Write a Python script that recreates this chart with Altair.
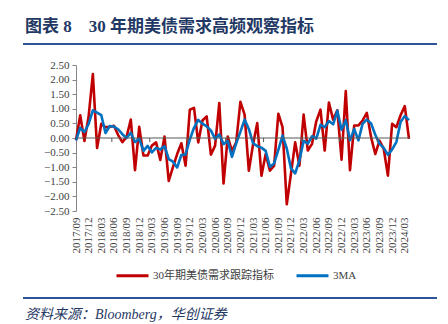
import json
import altair as alt
import pandas as pd

# ---- data ----
months = pd.date_range("2017-09-01", periods=80, freq="MS").strftime("%Y/%m").tolist()

red_name = "30年期美债需求跟踪指标"
ma_name = "3MA"

red = [-0.08, 0.78, -0.10, 0.75, 2.19, -0.34, 0.49, 0.37, 0.38, 0.42,
       0.10, -0.14, 0.04, 0.63, -1.10, 0.38, -0.60, -0.60, -0.26, -0.15,
       -0.75, 0.05, -1.47, -1.00, -0.55, -0.18, -0.95, 0.97, 1.03, -0.15,
       0.60, 0.74, -0.57, -0.26, 1.20, -1.56, 0.05, -0.45, -0.15, 1.24,
       0.80, -1.12, -0.22, 0.51, -1.29, -0.55, -1.12, -0.95, 0.83, 0.37,
       -2.27, -1.22, -0.15, -0.95, 0.80, -0.43, -0.20, 0.57, 0.97, -0.43,
       1.21, 0.63, 0.95, -0.74, 1.61, -1.10, 0.43, 0.43, 0.60, 0.86,
       0.03, -0.55, -0.09, -0.37, -1.29, 0.49, 0.37, 0.78, 1.09, -0.03]

ma3 = [-0.08, 0.35, 0.20, 0.48, 0.95, 0.87, 0.78, 0.17, 0.41, 0.39,
       0.30, 0.13, 0.00, 0.18, -0.14, -0.03, -0.44, -0.27, -0.49, -0.34,
       -0.39, -0.28, -0.72, -0.81, -1.01, -0.58, -0.56, -0.05, 0.35, 0.62,
       0.49, 0.40, 0.26, -0.03, 0.12, -0.21, -0.10, -0.65, -0.18, 0.21,
       0.63, 0.31, -0.18, -0.28, -0.33, -0.44, -0.99, -0.87, -0.41, 0.08,
       -0.36, -1.04, -1.21, -0.77, -0.10, -0.19, 0.06, -0.02, 0.45, 0.37,
       0.58, 0.47, 0.93, 0.28, 0.61, -0.08, 0.31, -0.08, 0.49, 0.63,
       0.50, 0.11, -0.20, -0.34, -0.58, -0.39, -0.14, 0.55, 0.75, 0.61]

tick_labels = ["2017/09", "2017/12", "2018/03", "2018/06", "2018/09", "2018/12",
               "2019/03", "2019/06", "2019/09", "2019/12", "2020/03", "2020/06",
               "2020/09", "2020/12", "2021/03", "2021/06", "2021/09", "2021/12",
               "2022/03", "2022/06", "2022/09", "2022/12", "2023/03", "2023/06",
               "2023/09", "2023/12", "2024/03"]
tick_values = [months.index(t) for t in tick_labels]

y_ticks = [2.5, 2.0, 1.5, 1.0, 0.5, 0.0, -0.5, -1.0, -1.5, -2.0, -2.5]
zero_axis_ticks = [8.5, 17.5, 26.5, 35.5, 44.5, 53.5, 62.5, 71.5]

title_text = "图表 8\u2002\u200230 年期美债需求高频观察指标"
source_text = "资料来源：Bloomberg，华创证券"

rows = []
for name, vals in ((red_name, red), (ma_name, ma3)):
    for i, (m, v) in enumerate(zip(months, vals)):
        rows.append({"i": i, "month": m, "series": name, "value": v})
df = pd.DataFrame(rows)

FONT = "Liberation Serif, Noto Sans CJK SC"
NAVY = "#1F3864"
RULE_BLUE = "#2F5496"

label_expr = json.dumps(tick_labels) + "[round(datum.value / 3)]"

xscale = alt.Scale(domain=[0, 79], nice=False, zero=False)
yscale = alt.Scale(domain=[-2.5, 2.5], nice=False, zero=False)

lines = alt.Chart(df).mark_line(strokeWidth=2.6, strokeJoin="round").encode(
    x=alt.X("i:Q", scale=xscale,
            axis=alt.Axis(values=tick_values, tickCount=100, labelExpr=label_expr,
                          labelAngle=-90, domain=False, ticks=False, grid=False,
                          title=None, labelFont=FONT, labelFontSize=11,
                          labelColor="#404040", labelPadding=6, labelOverlap=False,
                          labelFlush=False, labelBound=False)),
    y=alt.Y("value:Q", scale=yscale,
            axis=alt.Axis(values=y_ticks, tickCount=100, format=".2f", grid=False,
                          title=None, domainColor="#868686", tickColor="#868686",
                          tickSize=4, labelFont=FONT, labelFontSize=11,
                          labelColor="#404040", labelPadding=3, labelOverlap=False,
                          labelFlush=False, labelBound=False)),
    color=alt.Color("series:N",
                    scale=alt.Scale(domain=[red_name, ma_name], range=["#C00000", "#0070C0"]),
                    legend=alt.Legend(orient="none", legendX=39, legendY=193,
                                      direction="horizontal", title=None,
                                      symbolType="stroke", symbolSize=1024,
                                      symbolStrokeWidth=3, labelFont=FONT,
                                      labelFontSize=11, labelColor="#404040",
                                      columnPadding=16, labelOffset=3, padding=0)),
    order=alt.Order("i:Q"),
)

zero_line = alt.Chart(alt.Data(values=[{}])).mark_rule(color="#595959", strokeWidth=1).encode(
    y=alt.datum(0), x=alt.value(0), x2=alt.value(334)
)

zero_ticks = alt.Chart(pd.DataFrame({"t": zero_axis_ticks})).mark_rule(
    color="#595959", strokeWidth=1, y2Offset=4
).encode(x=alt.X("t:Q"), y=alt.datum(0), y2=alt.datum(0))

title = alt.Chart(alt.Data(values=[{}])).mark_text(
    text=title_text, font=FONT, fontSize=17, fontWeight="bold", color=NAVY,
    align="left", baseline="alphabetic"
).encode(x=alt.value(-51), y=alt.value(-33))

top_rule = alt.Chart(alt.Data(values=[{}])).mark_rule(color=RULE_BLUE, strokeWidth=2).encode(
    x=alt.value(-53), x2=alt.value(361), y=alt.value(-21)
)
bottom_rule = alt.Chart(alt.Data(values=[{}])).mark_rule(color=RULE_BLUE, strokeWidth=2).encode(
    x=alt.value(-53), x2=alt.value(361), y=alt.value(233)
)

source = alt.Chart(alt.Data(values=[{}])).mark_text(
    text=source_text, font=FONT, fontSize=14, fontStyle="italic", color=NAVY,
    align="left", baseline="alphabetic"
).encode(x=alt.value(-51), y=alt.value(254))

chart = alt.layer(lines, zero_line, zero_ticks, title, top_rule, bottom_rule, source).properties(
    width=333, height=146,
    padding={"left": 76, "top": 65, "right": 39, "bottom": 113},
    autosize=alt.AutoSizeParams(type="none"),
    background="white",
).configure_view(stroke=None).configure_axis(labelOverlap=False)

chart.save("out.html", embed_options={"renderer": "svg", "actions": False})
